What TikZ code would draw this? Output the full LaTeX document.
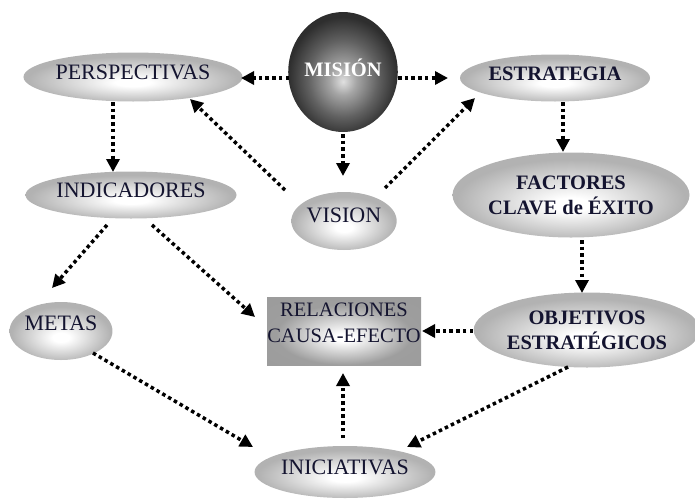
\documentclass[tikz,border=0pt]{standalone}
\usepackage{fontspec}
\setmainfont{Liberation Serif}
\usetikzlibrary{shapes.geometric,arrows.meta,calc}
\definecolor{txt}{HTML}{141430}
\pgfdeclareradialshading{lightell}{\pgfpoint{0bp}{-6bp}}{color(0bp)=(white); color(4bp)=(white); color(24bp)=(black!30); color(50bp)=(black!30)}
\pgfdeclareradialshading{darkell}{\pgfpoint{0bp}{-4bp}}{color(0bp)=(black!12); color(6bp)=(black!35); color(16bp)=(black!62); color(25bp)=(black!82); color(50bp)=(black!85)}
\pgfdeclareradialshading{relshade}{\pgfpoint{0bp}{-5bp}}{color(0bp)=(white); color(3bp)=(white); color(22bp)=(black!38); color(50bp)=(black!40)}
\begin{document}
\begin{tikzpicture}[x=1pt,y=-1pt,
  ell/.style={ellipse, inner sep=0pt, shading=lightell, text=txt, align=center,
    font=\fontsize{22}{26}\selectfont},
  bell/.style={ell, font=\bfseries\fontsize{20.5}{25}\selectfont},
  relbox/.style={rectangle, inner sep=0pt, shading=relshade, text=txt, align=center,
    font=\fontsize{20.5}{26}\selectfont},
  arr/.style={line width=3.5pt, dash pattern=on 3.5pt off 3.2pt,
    -{Triangle[length=13pt,width=13pt]}}]
\useasboundingbox (0,0) rectangle (695,498);
\node[ell, minimum width=217pt, minimum height=49pt, text depth=9pt] (persp) at (133,77) {PERSPECTIVAS};
\node[ell, minimum width=211pt, minimum height=47pt, text depth=9pt] (ind) at (131,195) {INDICADORES};
\node[bell, shading=darkell, text=white, minimum width=109pt, minimum height=120pt, text depth=8pt] (mision) at (343,72) {MISIÓN};
\node[bell, minimum width=190pt, minimum height=47pt, text depth=8pt] (estr) at (555,78) {ESTRATEGIA};
\node[bell, minimum width=237pt, minimum height=85pt] (fact) at (571,195) {FACTORES\\CLAVE de ÉXITO};
\node[bell, minimum width=220pt, minimum height=75pt] (obj) at (587,330) {OBJETIVOS\\ESTRATÉGICOS};
\node[ell, minimum width=105pt, minimum height=58pt, text depth=12pt] (vision) at (344,221) {VISION};
\node[ell, minimum width=102pt, minimum height=58pt, text depth=16pt] (metas) at (61,331) {METAS};
\node[relbox, minimum width=154pt, minimum height=68pt, text depth=16pt] (rel) at (344,331) {RELACIONES\\CAUSA-EFECTO};
\node[ell, minimum width=180pt, minimum height=52pt, text depth=9pt] (inic) at (345,472) {INICIATIVAS};

\draw[arr] ($(mision)+(-54,6)$) -- ($(persp)+(108,1)$);
\draw[arr] ($(mision)+(55,6)$) -- ($(estr)+(-107,0)$);
\draw[arr] ($(mision)+(0,62)$) -- ($(vision)+(-1,-45)$);
\draw[arr] ($(vision)+(-59,-31)$) -- ($(persp)+(57,22)$);
\draw[arr] ($(vision)+(41,-33)$) -- ($(estr)+(-80,20)$);
\draw[arr] ($(persp)+(-20,25)$) -- ($(ind)+(-18,-23)$);
\draw[arr] ($(estr)+(8,24)$) -- ($(fact)+(-8,-43)$);
\draw[arr] ($(fact)+(11,45)$) -- ($(obj)+(-5,-37)$);
\draw[arr] ($(obj)+(-114,1)$) -- ($(rel)+(78,0)$);
\draw[arr] ($(ind)+(-24,30)$) -- ($(metas)+(-9,-43)$);
\draw[arr] ($(ind)+(21,30)$) -- ($(rel)+(-89,-14)$);
\draw[arr] ($(metas)+(32,22)$) -- ($(inic)+(-92,-25)$);
\draw[arr] ($(obj)+(-19,37)$) -- ($(inic)+(62,-25)$);
\draw[arr] ($(inic)+(-2,-34)$) -- ($(rel)+(-1,42)$);
\end{tikzpicture}
\end{document}
